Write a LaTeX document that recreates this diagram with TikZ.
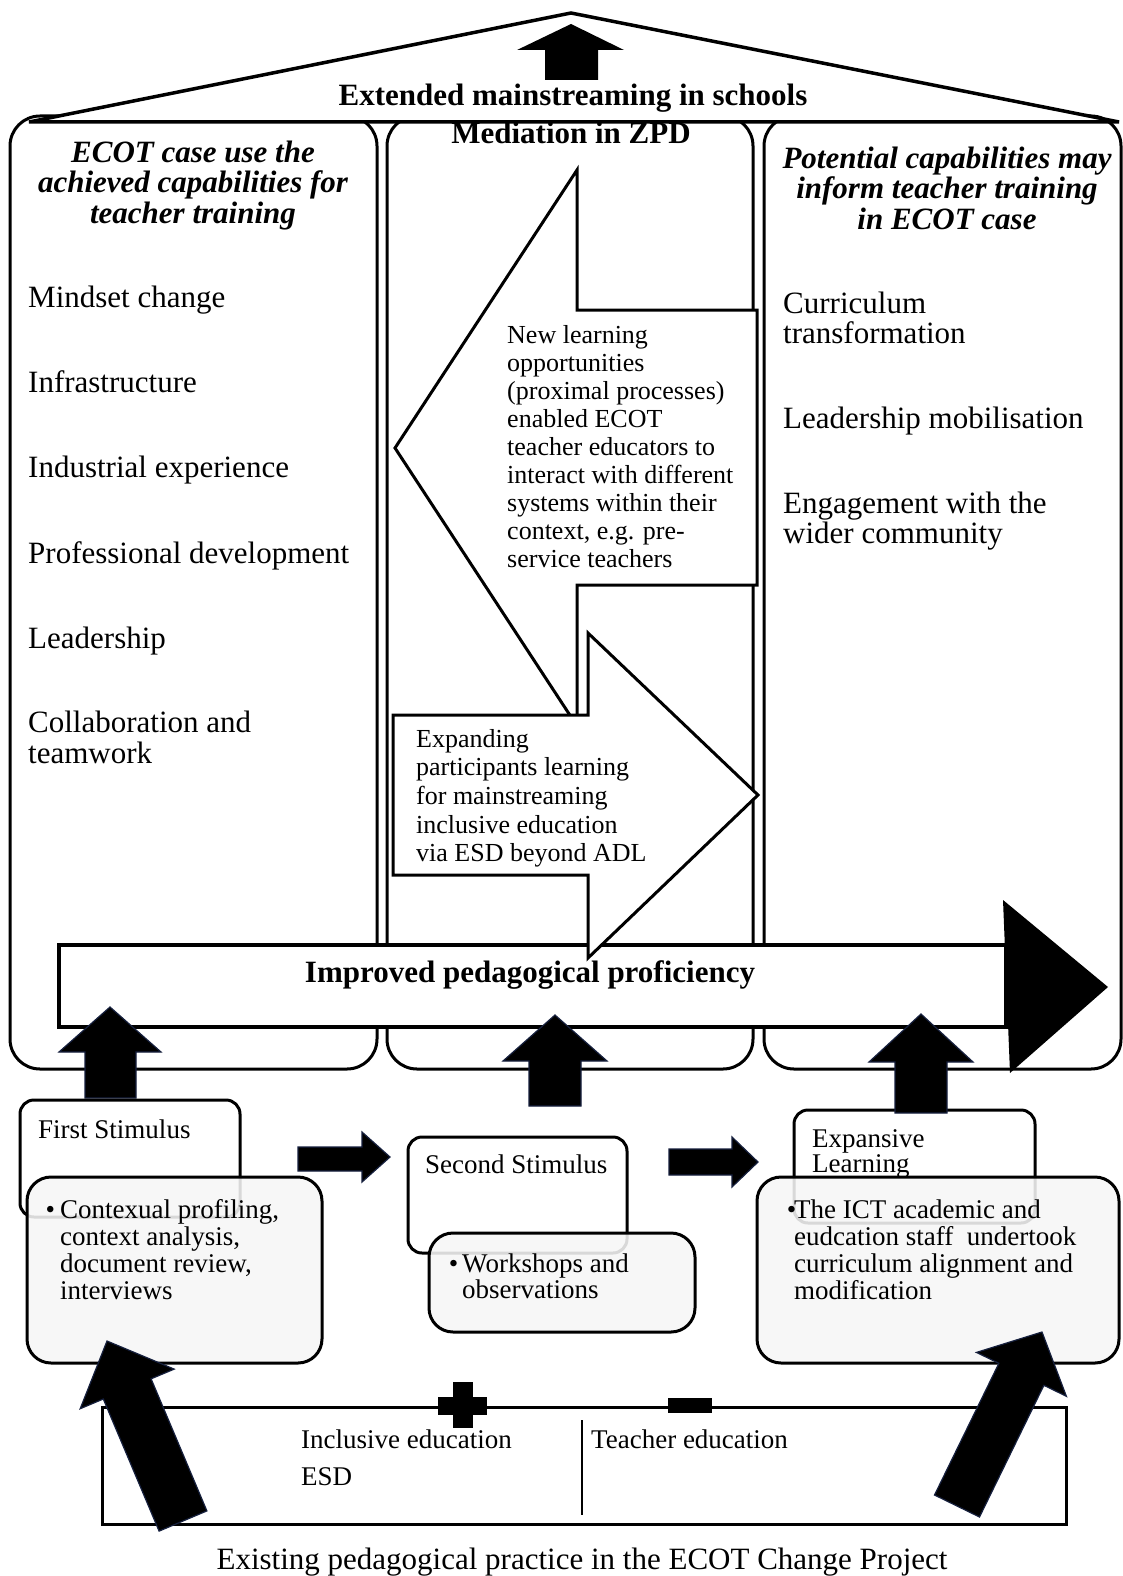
\documentclass[tikz,border=0pt]{standalone}
\usepackage{fontspec}
\setmainfont{Liberation Serif}
\usetikzlibrary{calc}

\definecolor{navy}{RGB}{22,32,62}
\definecolor{boxgray}{RGB}{246,246,246}

% multi-line text blocks whose baseline is the first line
\newcommand{\linesL}[1]{\begin{tabular}[t]{@{}l@{}}#1\end{tabular}}
\newcommand{\linesC}[1]{\begin{tabular}[t]{@{}c@{}}#1\end{tabular}}

\tikzset{
  colbox/.style={draw=black, line width=3pt, fill=white, rounded corners=30pt},
  roof/.style={draw=black, line width=3.5pt, fill=white, line join=miter},
  hollowarrow/.style={draw=black, line width=3pt, fill=white, line join=miter},
  solidarrow/.style={fill=black, draw=navy, line width=1.2pt, line join=miter},
  backbox/.style={draw=black, line width=3pt, fill=white, rounded corners=14pt},
  frontbox/.style={draw=black, line width=3pt, fill=boxgray, fill opacity=0.88, rounded corners=24pt},
  item/.style={inner sep=0pt, anchor=base west, font=\fontsize{31}{31}\selectfont},
  coltitle/.style={inner sep=0pt, anchor=base, font=\fontsize{31}{30}\selectfont\bfseries\itshape},
  bold/.style={inner sep=0pt, anchor=base, font=\fontsize{31}{31}\selectfont\bfseries},
  arrowtext/.style={inner sep=0pt, anchor=base west, font=\fontsize{26}{28}\selectfont},
  small/.style={inner sep=0pt, anchor=base west, font=\fontsize{27}{27}\selectfont},
}

\begin{document}
\begin{tikzpicture}[x=1pt,y=-1pt]
\useasboundingbox (0,0) rectangle (1123,1576);
\fill[white] (0,0) rectangle (1123,1576);

% three columns
\draw[colbox] (10,116) rectangle (377,1069);
\draw[colbox] (387,116) rectangle (753,1069);
\draw[colbox] (764,116) rectangle (1121,1069);

% roof and the arrow under its apex
\draw[roof] (29,122) -- (571,13) -- (1119,122) -- cycle;
\fill[black] (545,80) -- (545,50) -- (517,50) -- (571,24) -- (624,50) -- (598,50) -- (598,80) -- cycle;

\node[bold] (extended) at (573,106) {Extended mainstreaming in schools};
\node[bold] (mediation) at (571,143) {Mediation in ZPD};

% column headings
\node[coltitle] (lefttitle) at (193,162)
  {\linesC{ECOT case use the\\achieved capabilities for\\teacher training}};
\node[coltitle] (righttitle) at (947,168)
  {\linesC{Potential capabilities may\\inform teacher training\\in ECOT case}};

% achieved capabilities
\node[item] (mindset) at (28,307) {Mindset change};
\node[item] (infra) at (28,392) {Infrastructure};
\node[item] (industrial) at (28,477) {Industrial experience};
\node[item] (profdev) at (28,563) {Professional development};
\node[item] (leader) at (28,648) {Leadership};
\node[item] (collab) at (28,732) {\linesL{Collaboration and\\teamwork}};

% potential capabilities
\node[item, font=\fontsize{31}{30}\selectfont] (curric) at (783,313) {\linesL{Curriculum\\transformation}};
\node[item] (mobil) at (783,428) {Leadership mobilisation};
\node[item, font=\fontsize{31}{30}\selectfont] (engage) at (783,513) {\linesL{Engagement with the\\wider community}};

% improved pedagogical proficiency arrow
\draw[line width=4pt, fill=white] (59,945) rectangle (1006,1027);
\fill[black] (1003,900) -- (1108,987) -- (1010,1073) -- cycle;
\node[bold] (improved) at (530,982) {Improved pedagogical proficiency};

% mediation arrows
\draw[hollowarrow] (395,448) -- (577,170) -- (577,310) -- (757,310) -- (757,585)
  -- (577,585) -- (577,726) -- cycle;
\node[arrowtext] (newlearning) at (507,343)
  {\linesL{New learning\\opportunities\\(proximal processes)\\enabled ECOT\\teacher educators to\\interact with different\\systems within their\\context, e.g. pre-\\service teachers}};
\draw[hollowarrow] (393,715) -- (588,715) -- (588,633) -- (758,795) -- (588,958)
  -- (588,875) -- (393,875) -- cycle;
\node[arrowtext, font=\fontsize{26}{28.7}\selectfont] (expanding) at (416,747)
  {\linesL{Expanding\\participants learning\\for mainstreaming\\inclusive education\\via ESD beyond ADL}};

% upward arrows into the columns
\draw[solidarrow] (85,1098) -- (85,1052) -- (59,1052) -- (110,1007) -- (161,1052) -- (136,1052) -- (136,1098) -- cycle;
\draw[solidarrow] (529,1106) -- (529,1061) -- (503,1061) -- (555,1015) -- (607,1061) -- (581,1061) -- (581,1106) -- cycle;

% stimulus boxes
\draw[backbox] (20,1100) rectangle (240,1217);
\node[small] (first) at (38,1138) {First Stimulus};
\draw[frontbox] (27,1177) rectangle (322,1363);
\node[small] (firsttext) at (60,1218)
  {\linesL{\llap{•\kern5pt}Contexual profiling,\\context analysis,\\document review,\\interviews}};

\draw[backbox] (408,1137) rectangle (627,1253);
\node[small] (second) at (425,1173) {Second Stimulus};
\draw[frontbox] (429,1233) rectangle (695,1332);
\node[small, font=\fontsize{27}{26}\selectfont] (secondtext) at (462,1272)
  {\linesL{\llap{•\kern4pt}Workshops and\\observations}};

\draw[backbox] (794,1110) rectangle (1035,1223);
\node[small, font=\fontsize{27}{25}\selectfont] (expansive) at (812,1147) {\linesL{Expansive\\Learning}};
\draw[frontbox] (757,1177) rectangle (1119,1363);
\node[small] (ict) at (794,1218)
  {\linesL{\llap{•\kern-2pt}The ICT academic and\\eudcation staff\ \ undertook\\curriculum alignment and\\modification}};

\draw[solidarrow] (895,1113) -- (895,1062) -- (869,1062) -- (921,1014) -- (973,1062) -- (947,1062) -- (947,1113) -- cycle;

% arrows between the stimuli
\draw[solidarrow] (298,1147) -- (362,1147) -- (362,1132) -- (390,1157) -- (362,1182) -- (362,1171) -- (298,1171) -- cycle;
\draw[solidarrow] (669,1149) -- (732,1149) -- (732,1137) -- (758,1162) -- (732,1187) -- (732,1175) -- (669,1175) -- cycle;

% existing practice
\draw[line width=3pt] (102,1407) rectangle (1066,1524);
\draw[line width=1.5pt] (582,1420) -- (582,1515);
\fill[black] (453,1382) rectangle (473,1428);
\fill[black] (438,1397) rectangle (487,1415);
\fill[black] (668,1398) rectangle (712,1413);
\node[small] (inclusive) at (301,1448) {Inclusive education};
\node[small] (esd) at (301,1485) {ESD};
\node[small] (teachered) at (591,1448) {Teacher education};

% diagonal arrows from existing practice
\draw[solidarrow] (159.1,1531.1) -- (103.3,1399.0) -- (80.2,1408.7) -- (107,1341)
  -- (174.2,1369.1) -- (151.1,1378.8) -- (206.9,1510.9) -- cycle;
\draw[solidarrow] (934.5,1495.0) -- (998.9,1363.3) -- (976.4,1352.4) -- (1042,1332)
  -- (1066.4,1396.3) -- (1043.9,1385.3) -- (979.5,1517.0) -- cycle;

\node[inner sep=0pt, anchor=base, font=\fontsize{31}{31}\selectfont] (caption) at (582,1569)
  {Existing pedagogical practice in the ECOT Change Project};
\end{tikzpicture}
\end{document}
